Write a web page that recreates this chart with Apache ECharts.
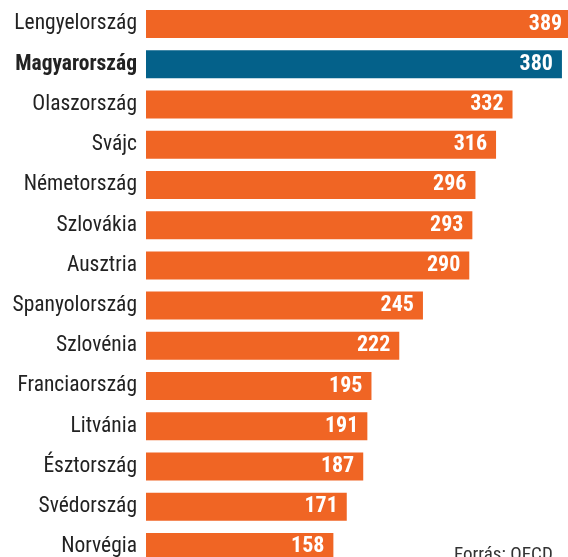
<!DOCTYPE html>
<html>
<head>
<meta charset="utf-8">
<script src="https://cdn.jsdelivr.net/npm/echarts@6/dist/echarts.min.js"></script>
<style>
  html, body { margin: 0; padding: 0; background: #fff; }
  #chart { width: 568px; height: 557px; }
</style>
</head>
<body>
<div id="chart"></div>
<script>
var countries = ['Lengyelország', 'Magyarország', 'Olaszország', 'Svájc', 'Németország',
    'Szlovákia', 'Ausztria', 'Spanyolország', 'Szlovénia', 'Franciaország',
    'Litvánia', 'Észtország', 'Svédország', 'Norvégia'];
var values = [389, 380, 332, 316, 296, 293, 290, 245, 222, 195, 191, 187, 171, 158];
var highlight = 'Magyarország';
var source = 'Forrás: OECD';

var FONT = '"Roboto Condensed", "Liberation Sans Narrow", "DejaVu Sans Condensed", Roboto, sans-serif';
var ORANGE = '#f06524';
var BLUE = '#04618a';

var chart = echarts.init(document.getElementById('chart'));

var option = {
    animation: false,
    grid: {
        left: 146,
        right: -31,
        top: 4,
        height: 563,
        outerBoundsMode: 'none',
        containLabel: false
    },
    xAxis: {
        type: 'value',
        min: -24,
        max: 416,
        startValue: -24,
        show: false
    },
    yAxis: {
        type: 'category',
        data: countries,
        inverse: true,
        axisLine: { show: false },
        axisTick: { show: false },
        splitLine: { show: false },
        axisLabel: {
            margin: 9,
            fontFamily: FONT,
            fontSize: 21.5,
            color: '#222',
            formatter: function(v) {
                return v === highlight ? '{b|' + v + '}' : v;
            },
            rich: {
                b: {
                    fontFamily: FONT,
                    fontSize: 21.5,
                    fontWeight: 'bold',
                    color: '#222'
                }
            }
        }
    },
    series: [{
        type: 'bar',
        barWidth: 28,
        data: values.map(function(v, i) {
            return {
                value: v,
                itemStyle: { color: countries[i] === highlight ? BLUE : ORANGE }
            };
        }),
        label: {
            show: true,
            position: 'insideRight',
            distance: 9,
            color: '#fff',
            fontFamily: FONT,
            fontWeight: 'bold',
            fontSize: 22
        }
    }],
    graphic: [{
        type: 'text',
        left: 454,
        top: 546,
        style: {
            text: source,
            fontFamily: FONT,
            fontSize: 19,
            fill: '#333'
        }
    }]
};

chart.setOption(option);
</script>
</body>
</html>
